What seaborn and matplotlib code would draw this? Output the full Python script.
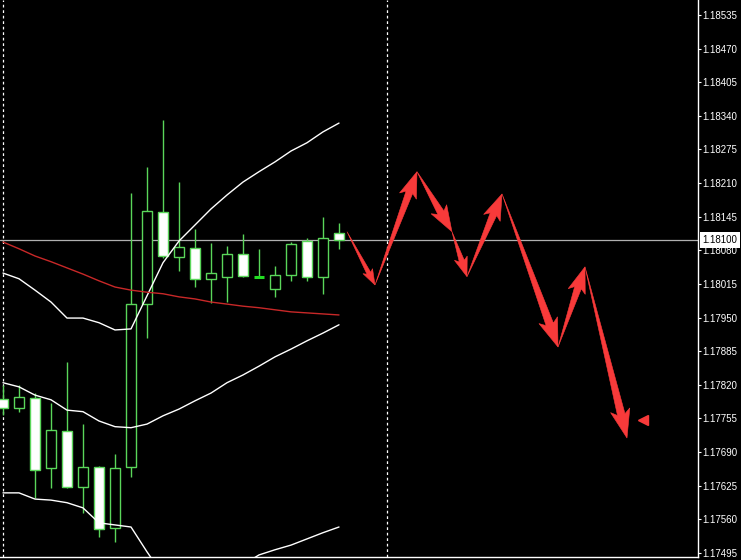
import numpy as np
import pandas as pd
import matplotlib
matplotlib.use("Agg")
import matplotlib.pyplot as plt
from matplotlib.patches import Polygon
import seaborn as sns

# ---------------- data ----------------
candle_idx = list(range(22))
opens  = [1.17793, 1.17775, 1.17795, 1.17659, 1.17731, 1.17623, 1.17661, 1.17543,
          1.17661, 1.17976, 1.18154, 1.18067, 1.18085, 1.18025, 1.18029, 1.18073,
          1.18029, 1.18005, 1.18032, 1.18098, 1.18029, 1.18114]
highs  = [1.17820, 1.17820, 1.17804, 1.17785, 1.17864, 1.17744, 1.17663, 1.17686,
          1.18191, 1.18241, 1.18332, 1.18212, 1.18121, 1.18094, 1.18089, 1.18112,
          1.18083, 1.18050, 1.18096, 1.18104, 1.18145, 1.18133]
lows   = [1.17762, 1.17768, 1.17601, 1.17621, 1.17621, 1.17572, 1.17526, 1.17516,
          1.17642, 1.17911, 1.18065, 1.18040, 1.18009, 1.17978, 1.17980, 1.18029,
          1.18027, 1.17990, 1.18021, 1.18021, 1.17996, 1.18083]
closes = [1.17775, 1.17797, 1.17655, 1.17733, 1.17623, 1.17661, 1.17541, 1.17659,
          1.17976, 1.18156, 1.18069, 1.18087, 1.18025, 1.18036, 1.18073, 1.18030,
          1.18029, 1.18032, 1.18092, 1.18029, 1.18104, 1.18100]

ma_red = [1.18096, 1.18083, 1.18069, 1.18058, 1.18046, 1.18034, 1.18021, 1.18009,
          1.18003, 1.17999, 1.17996, 1.17990, 1.17986, 1.17980, 1.17976, 1.17972,
          1.17969, 1.17965, 1.17961, 1.17959, 1.17957, 1.17955]
band_a = [1.18036, 1.18025, 1.18003, 1.17980, 1.17949, 1.17949, 1.17940, 1.17926,
          1.17928, 1.17992, 1.18056, 1.18098, 1.18129, 1.18160, 1.18187, 1.18212,
          1.18232, 1.18251, 1.18272, 1.18288, 1.18309, 1.18326]
band_b = [1.17824, 1.17816, 1.17800, 1.17791, 1.17771, 1.17768, 1.17750, 1.17739,
          1.17737, 1.17744, 1.17760, 1.17773, 1.17789, 1.17804, 1.17824, 1.17839,
          1.17856, 1.17874, 1.17889, 1.17905, 1.17920, 1.17936]
band_c = [1.17611, 1.17611, 1.17599, 1.17597, 1.17592, 1.17582, 1.17553, 1.17549,
          1.17545, 1.17497, 1.17452, 1.17423, 1.17414, 1.17423, 1.17443, 1.17472,
          1.17491, 1.17501, 1.17510, 1.17522, 1.17534, 1.17545]

zigzag_x = [21.5, 23.25, 25.875, 28.06, 29.0, 31.19, 34.69, 36.375, 39.0]
zigzag_y = [1.18116, 1.18013, 1.18232, 1.18116, 1.18029, 1.18189, 1.17893, 1.18048, 1.17717]
marker_x = [40.0]
marker_y = [1.17752]

current_price = 1.18100
price_ticks = [1.17495, 1.17560, 1.17625, 1.17690, 1.17755, 1.17820, 1.17885,
               1.17950, 1.18015, 1.18080, 1.18145, 1.18210, 1.18275, 1.18340,
               1.18405, 1.18470, 1.18535]
time_ticks = [2, 6, 10, 14, 18]
separator_x = [0, 24]

# ---------------- style ----------------
sns.set_style("dark")
plt.rcParams["font.family"] = ["Liberation Sans", "DejaVu Sans"]

W, H = 741, 560
DPI = 100
fig = plt.figure(figsize=(W / DPI, H / DPI), dpi=DPI, facecolor="black")
ax = fig.add_axes([0, 3 / H, 698 / W, 557 / H], facecolor="black")
ax.set_xlim(-0.1875, 43.4375)
ax.set_ylim(1.17487, 1.18564)
ax.grid(False)

GREEN = "#5ad65a"
px = 72 / DPI  # one pixel in points

# separators
for xv in separator_x:
    ax.axvline(xv, color="white", lw=0.9, ls=(0, (2.2, 2.2)), zorder=1)

# current price line
ax.axhline(current_price, color="#b0b0b0", lw=0.9, zorder=1.5)

# candles
df = pd.DataFrame({"i": candle_idx, "o": opens, "h": highs, "l": lows, "c": closes})
ax.vlines(df["i"], df["l"], df["h"], color=GREEN, lw=1.0, zorder=2)
body = df[df["o"] != df["c"]]
bear = body["c"] < body["o"]
ax.bar(body["i"], (body["c"] - body["o"]).abs(), bottom=body[["o", "c"]].min(axis=1),
       width=0.6, color=np.where(bear, "white", "black"), edgecolor=GREEN,
       linewidth=1.0, zorder=3)
doji = df[df["o"] == df["c"]]
ax.hlines(doji["o"], doji["i"] - 0.3, doji["i"] + 0.3, color="#22dd22", lw=2.2, zorder=3)

# indicator lines
lines = pd.DataFrame({"i": candle_idx, "ma": ma_red, "a": band_a, "b": band_b, "c": band_c})
for col, colr in [("a", "white"), ("b", "white"), ("c", "white"), ("ma", "#c82828")]:
    sns.lineplot(data=lines, x="i", y=col, color=colr, lw=1.0, ax=ax, legend=False, zorder=4)

# zigzag arrows
ARROW = "#f83a3a"
arrow_scale = [0.6, 1.0, 1.0, 0.75, 1.0, 1.1, 1.0, 1.1]


def draw_arrow(x0, y0, x1, y1, scale):
    T = ax.transData
    s = T.transform((x0, y0))
    e = T.transform((x1, y1))
    d = e - s
    u = d / np.hypot(*d)
    n = np.array([-u[1], u[0]])
    hl, hw, tw = 22 * scale, 18 * scale, 7 * scale
    b = e - u * hl
    barb = b - u * 4 * scale
    pts = np.array([s, b + n * tw / 2, barb + n * hw / 2, e, barb - n * hw / 2, b - n * tw / 2])
    pts = T.inverted().transform(pts)
    ax.add_patch(Polygon(pts, closed=True, fc=ARROW, ec=ARROW, lw=0.4, zorder=5))


for k in range(len(zigzag_x) - 1):
    draw_arrow(zigzag_x[k], zigzag_y[k], zigzag_x[k + 1], zigzag_y[k + 1], arrow_scale[k])
ax.plot(marker_x, marker_y, marker="<", ms=7.5, color=ARROW, ls="none", zorder=5)

# axes styling
for side in ["left", "top"]:
    ax.spines[side].set_visible(False)
for side in ["right", "bottom"]:
    ax.spines[side].set_color("white")
    ax.spines[side].set_linewidth(1.0)
ax.yaxis.tick_right()
ax.set_yticks(price_ticks)
ax.set_yticklabels([f"{v:.5f}" for v in price_ticks])
ax.tick_params(axis="y", colors="white", labelcolor="white", length=3 * px,
               width=0.8, pad=1.5 * px, labelsize=7, direction="out")
ax.set_xticks(time_ticks)
ax.set_xticklabels([])
ax.tick_params(axis="x", colors="white", length=4 * px, width=0.8, direction="out")
ax.set_xlabel("")
ax.set_ylabel("")

ax.annotate(f"{current_price:.5f}", xy=(1, current_price), xycoords=("axes fraction", "data"),
            xytext=(4.5 * px, 0), textcoords="offset points", ha="left", va="center",
            fontsize=7, color="black", annotation_clip=False, zorder=10,
            bbox=dict(boxstyle="square,pad=0.28", fc="white", ec="none"))

fig.savefig("out.png", dpi=DPI, facecolor="black")
